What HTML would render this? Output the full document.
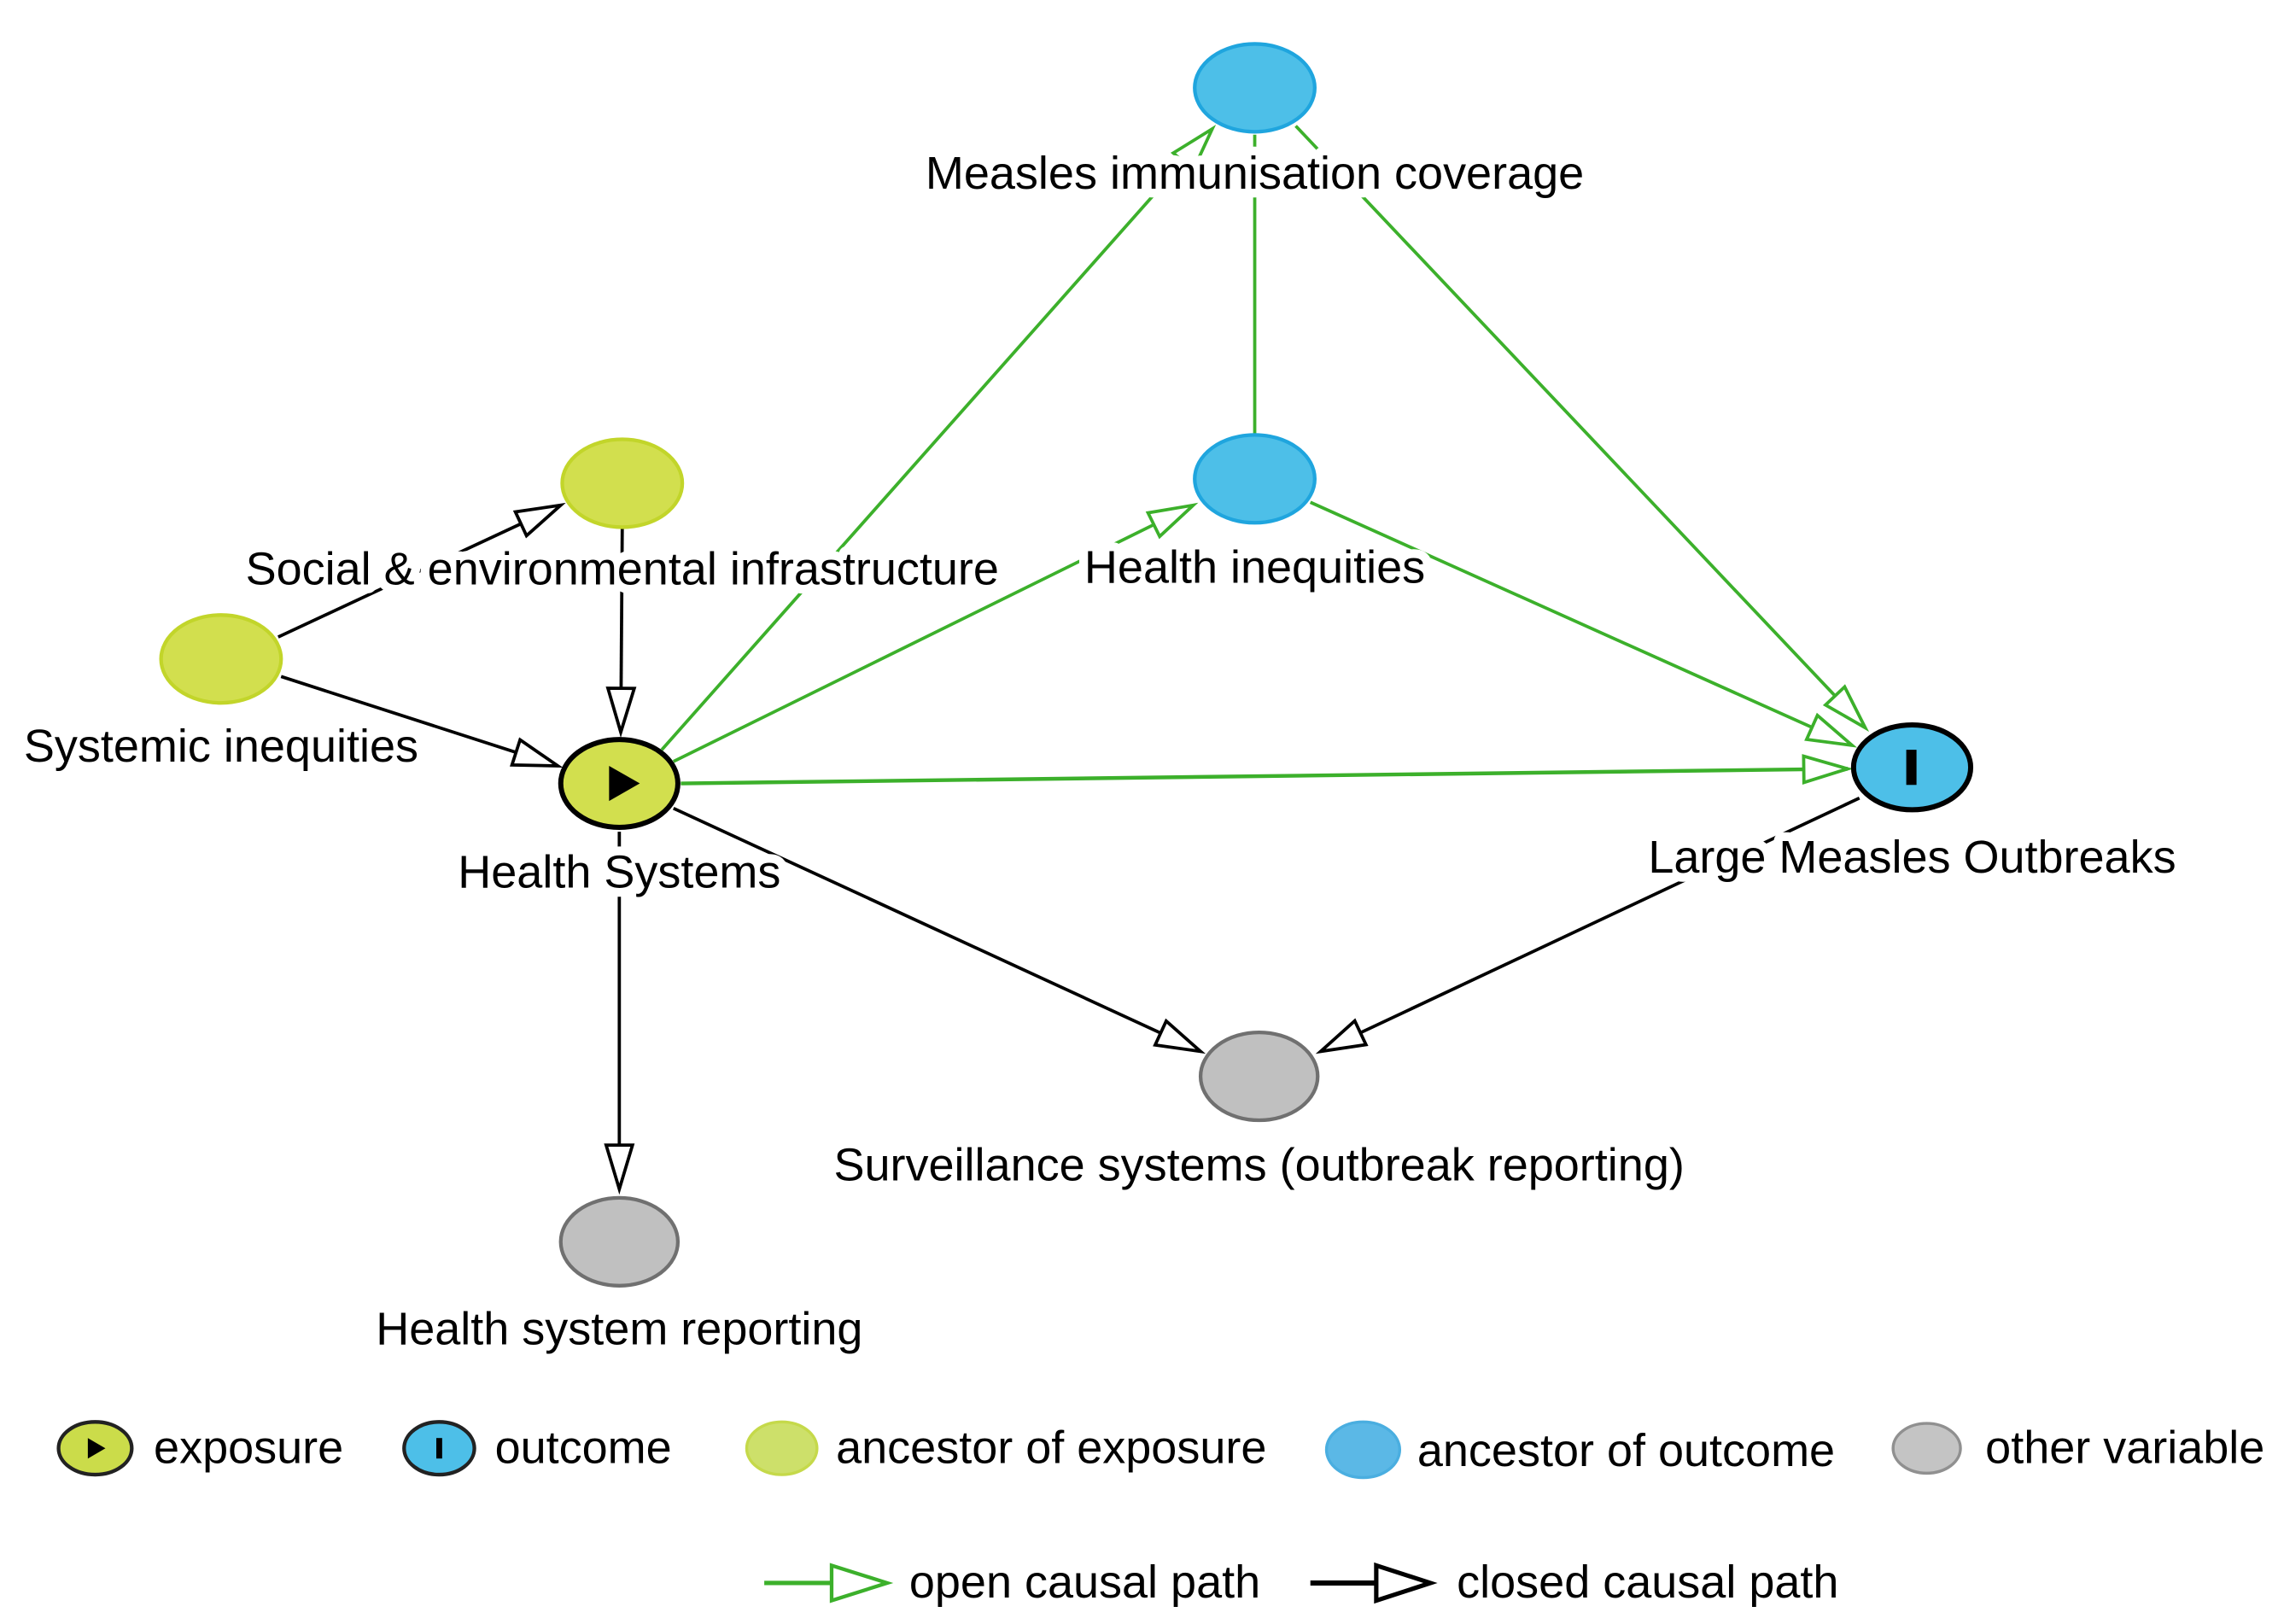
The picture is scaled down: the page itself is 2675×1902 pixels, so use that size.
<!DOCTYPE html>
<html><head><meta charset="utf-8"><style>
html,body{margin:0;padding:0;background:#fff;}
svg{display:block;}
text{font-family:"Liberation Sans",Arial,sans-serif;font-size:31.5px;fill:#000;}
.lbl{paint-order:stroke;stroke:#fff;stroke-width:12px;stroke-linejoin:round;}
</style></head><body>
<svg width="2675" height="1902" viewBox="0 0 1560 1109" preserveAspectRatio="none" xmlns="http://www.w3.org/2000/svg">
<defs>
<marker id="ga" markerUnits="userSpaceOnUse" markerWidth="36" markerHeight="26" refX="32" refY="11" orient="auto">
<path d="M2,2 L32,11 L2,20 Z" fill="#fff" stroke="#3cb02b" stroke-width="2.2"/></marker>
<marker id="ba" markerUnits="userSpaceOnUse" markerWidth="36" markerHeight="26" refX="32" refY="11" orient="auto">
<path d="M2,2 L32,11 L2,20 Z" fill="#fff" stroke="#000" stroke-width="2.2"/></marker>
</defs>
<g fill="none" stroke-width="2.2">
<line x1="452" y1="512" x2="828" y2="88" stroke="#3cb02b" marker-end="url(#ga)"/>
<line x1="460" y1="520" x2="815" y2="345" stroke="#3cb02b" marker-end="url(#ga)"/>
<line x1="857" y1="297" x2="857" y2="92" stroke="#3cb02b"/>
<line x1="885" y1="86" x2="1274" y2="497" stroke="#3cb02b" marker-end="url(#ga)"/>
<line x1="895" y1="343" x2="1265" y2="509" stroke="#3cb02b" marker-end="url(#ga)"/>
<line x1="465" y1="535" x2="1262" y2="525" stroke="#3cb02b" stroke-width="2.6" marker-end="url(#ga)"/>
<line x1="190" y1="435" x2="383" y2="345" stroke="#000" marker-end="url(#ba)"/>
<line x1="425" y1="361" x2="424" y2="500" stroke="#000" marker-end="url(#ba)"/>
<line x1="192" y1="462" x2="381" y2="523" stroke="#000" marker-end="url(#ba)"/>
<line x1="460" y1="552" x2="820" y2="718" stroke="#000" marker-end="url(#ba)"/>
<line x1="1270" y1="545" x2="902" y2="718" stroke="#000" marker-end="url(#ba)"/>
<line x1="423" y1="568" x2="423" y2="812" stroke="#000" marker-end="url(#ba)"/>
</g>
<ellipse cx="857" cy="60" rx="41" ry="30" fill="#4dbfe8" stroke="#1fa5de" stroke-width="2.5"/>
<ellipse cx="857" cy="327" rx="41" ry="30" fill="#4dbfe8" stroke="#1fa5de" stroke-width="2.5"/>
<ellipse cx="425" cy="330" rx="41" ry="30" fill="#d2df4e" stroke="#c2d52a" stroke-width="2.5"/>
<ellipse cx="151" cy="450" rx="41" ry="30" fill="#d2df4e" stroke="#c2d52a" stroke-width="2.5"/>
<ellipse cx="423" cy="535" rx="40" ry="30" fill="#d2df4e" stroke="#000" stroke-width="3.5"/>
<path d="M416,523 L437,535 L416,547 Z" fill="#000"/>
<ellipse cx="1306" cy="524" rx="40" ry="29" fill="#4dbfe8" stroke="#000" stroke-width="3.5"/>
<rect x="1302" y="512" width="7" height="24" fill="#000"/>
<ellipse cx="860" cy="735" rx="40" ry="30" fill="#c0c0c0" stroke="#707070" stroke-width="2.5"/>
<ellipse cx="423" cy="848" rx="40" ry="30" fill="#c0c0c0" stroke="#707070" stroke-width="2.5"/>
<g class="lbl" text-anchor="middle">
<text x="857" y="129">Measles immunisation coverage</text>
<text x="857" y="398">Health inequities</text>
<text x="425" y="399">Social &amp; environmental infrastructure</text>
<text x="151" y="520">Systemic inequities</text>
<text x="423" y="606">Health Systems</text>
<text x="1306" y="596">Large Measles Outbreaks</text>
<text x="860" y="806">Surveillance systems (outbreak reporting)</text>
<text x="423" y="918">Health system reporting</text>
</g>
<ellipse cx="65" cy="989" rx="25" ry="18" fill="#cbdc4a" stroke="#222" stroke-width="2.5"/>
<path d="M60,982 L72,989 L60,996 Z" fill="#000"/>
<text x="105" y="999">exposure</text>
<ellipse cx="300" cy="989" rx="24" ry="18" fill="#4dbfe8" stroke="#222" stroke-width="2.5"/>
<rect x="298" y="982" width="4" height="14" fill="#000"/>
<text x="338" y="999">outcome</text>
<ellipse cx="534" cy="989" rx="24" ry="18" fill="#cde06a" stroke="#c5d94a" stroke-width="2"/>
<text x="571" y="999">ancestor of exposure</text>
<ellipse cx="931" cy="990" rx="25" ry="19" fill="#5bb8e6" stroke="#4aaee0" stroke-width="2"/>
<text x="968" y="1001">ancestor of outcome</text>
<ellipse cx="1316" cy="989" rx="23" ry="17" fill="#c4c4c4" stroke="#909090" stroke-width="2"/>
<text x="1356" y="999">other variable</text>
<line x1="522" y1="1081" x2="580" y2="1081" stroke="#3cb02b" stroke-width="3"/>
<path d="M568,1069 L606,1081 L568,1093 Z" fill="#fff" stroke="#3cb02b" stroke-width="2.5"/>
<text x="621" y="1091">open causal path</text>
<line x1="895" y1="1081" x2="952" y2="1081" stroke="#000" stroke-width="3.5"/>
<path d="M940,1069 L977,1081 L940,1093 Z" fill="#fff" stroke="#000" stroke-width="3"/>
<text x="995" y="1091">closed causal path</text>
</svg>
</body></html>
